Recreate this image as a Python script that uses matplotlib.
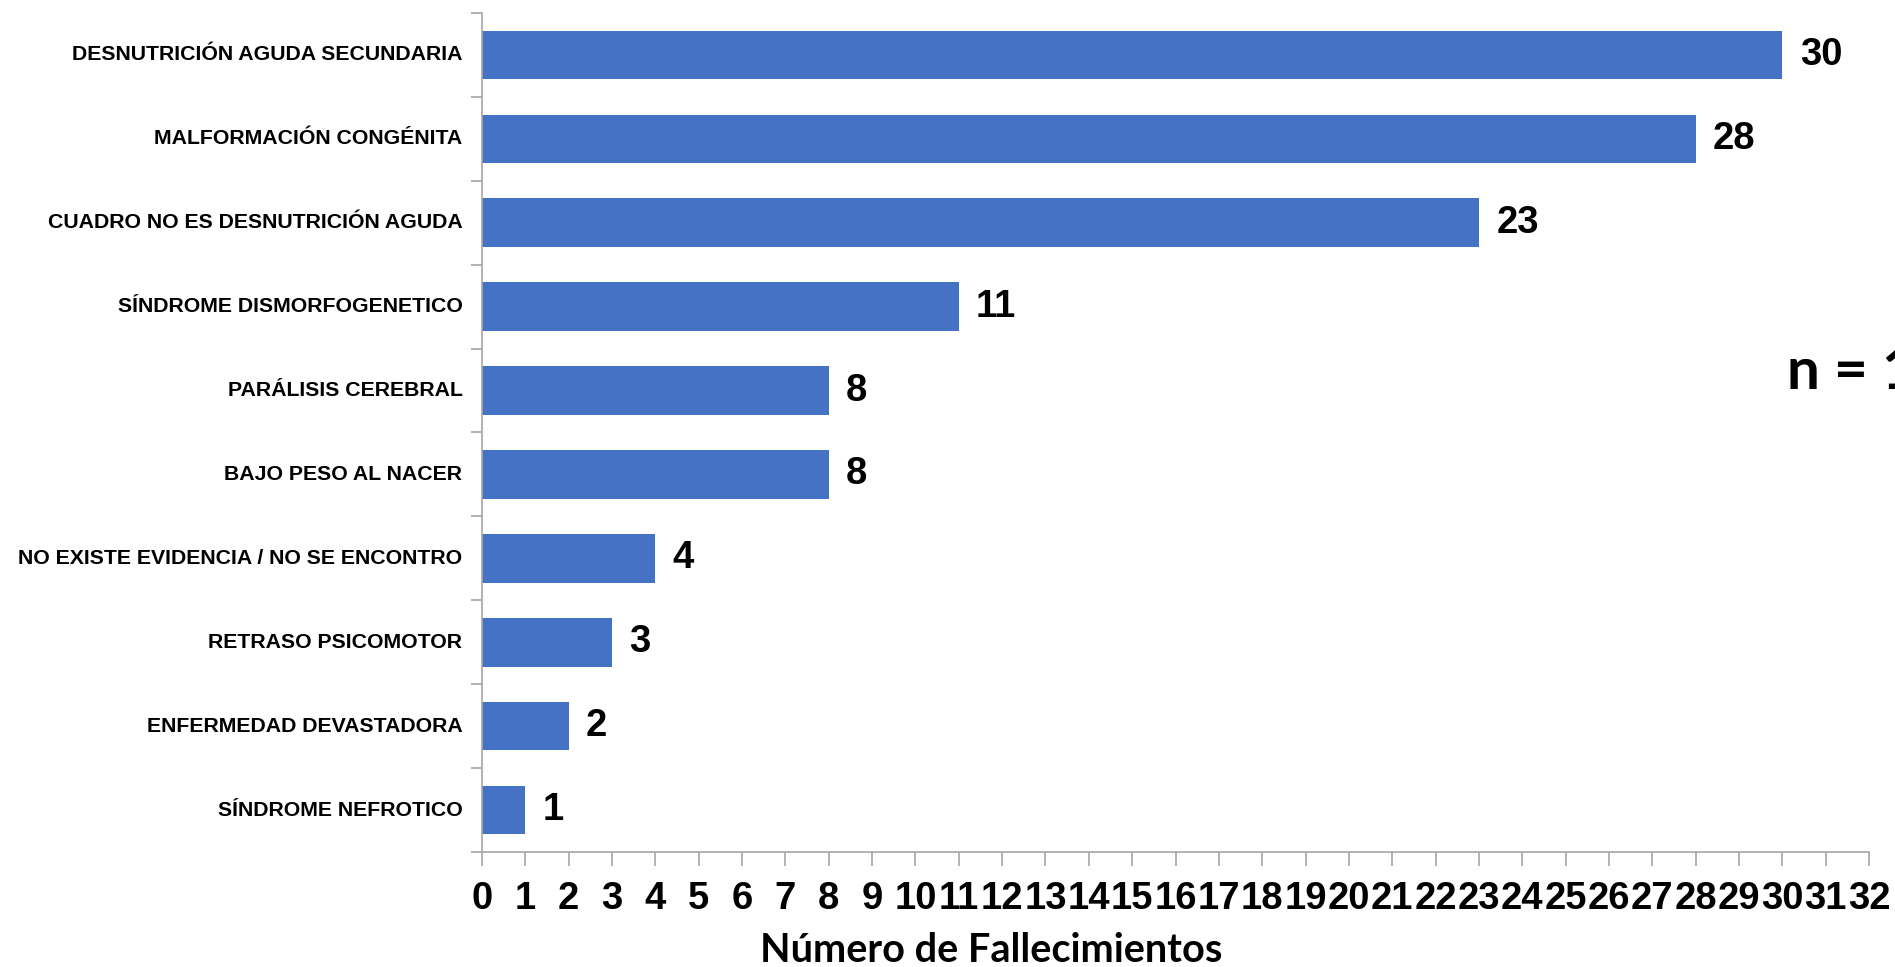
import matplotlib
matplotlib.use("Agg")
import matplotlib.pyplot as plt
from matplotlib import font_manager

causas = [
    "DESNUTRICIÓN AGUDA SECUNDARIA",
    "MALFORMACIÓN CONGÉNITA",
    "CUADRO NO ES DESNUTRICIÓN AGUDA",
    "SÍNDROME DISMORFOGENETICO",
    "PARÁLISIS CEREBRAL",
    "BAJO PESO AL NACER",
    "NO EXISTE EVIDENCIA / NO SE ENCONTRO",
    "RETRASO PSICOMOTOR",
    "ENFERMEDAD DEVASTADORA",
    "SÍNDROME NEFROTICO",
]
fallecimientos = [30, 28, 23, 11, 8, 8, 4, 3, 2, 1]
x_ticks = list(range(0, 33))

names = {f.name for f in font_manager.fontManager.ttflist}
if "Liberation Sans Narrow" in names:
    label_font, label_size = "Liberation Sans Narrow", 18
else:
    label_font, label_size = "Liberation Sans", 15.3
num_font = "Liberation Sans"
title_font = "Lato" if "Lato" in names else "Open Sans"

BAR = "#4472C4"
GRID = "#A6A6A6"

fig = plt.figure(figsize=(18.95, 9.67), dpi=100)
ax = fig.add_axes([482 / 1895, 1 - 852 / 967, (1869 - 482) / 1895, (852 - 13) / 967])

n = len(causas)
ypos = list(range(n))[::-1]
ax.barh(ypos, fallecimientos, height=0.58, color=BAR, zorder=2)

for y, v in zip(ypos, fallecimientos):
    ax.text(v + 0.4, y, str(v), va="center", ha="left",
            fontsize=27.5, fontweight="bold", family=num_font)

ax.set_xlim(0, 32)
ax.set_ylim(-0.5, n - 0.5)

ax.set_xticks(x_ticks)
ax.set_xticklabels([str(t) for t in x_ticks], fontsize=27.5, fontweight="bold",
                   family=num_font)
ax.tick_params(axis="x", direction="out", length=10, width=1.2, color=GRID, pad=11)

# category labels sit between boundary ticks, like Excel
ax.set_yticks([i - 0.5 for i in range(n + 1)])
ax.set_yticklabels([])
ax.tick_params(axis="y", direction="out", length=8, width=1.2, color=GRID)
for y, c in zip(ypos, causas):
    ax.text(-0.45, y, c, ha="right", va="center", fontsize=label_size,
            fontweight="bold", family=label_font)

for side in ["top", "right"]:
    ax.spines[side].set_visible(False)
for side in ["left", "bottom"]:
    ax.spines[side].set_color(GRID)
    ax.spines[side].set_linewidth(1.2)

fig.text(991 / 1895, 1 - 962 / 967, "Número de Fallecimientos", ha="center",
         va="baseline", fontsize=28.5, fontweight="bold", family=title_font)
fig.text(1787 / 1895, 1 - 389 / 967, "n = 1", ha="left", va="baseline",
         fontsize=42, fontweight="bold", family=title_font)

fig.savefig("out.png", dpi=100, facecolor="white")
